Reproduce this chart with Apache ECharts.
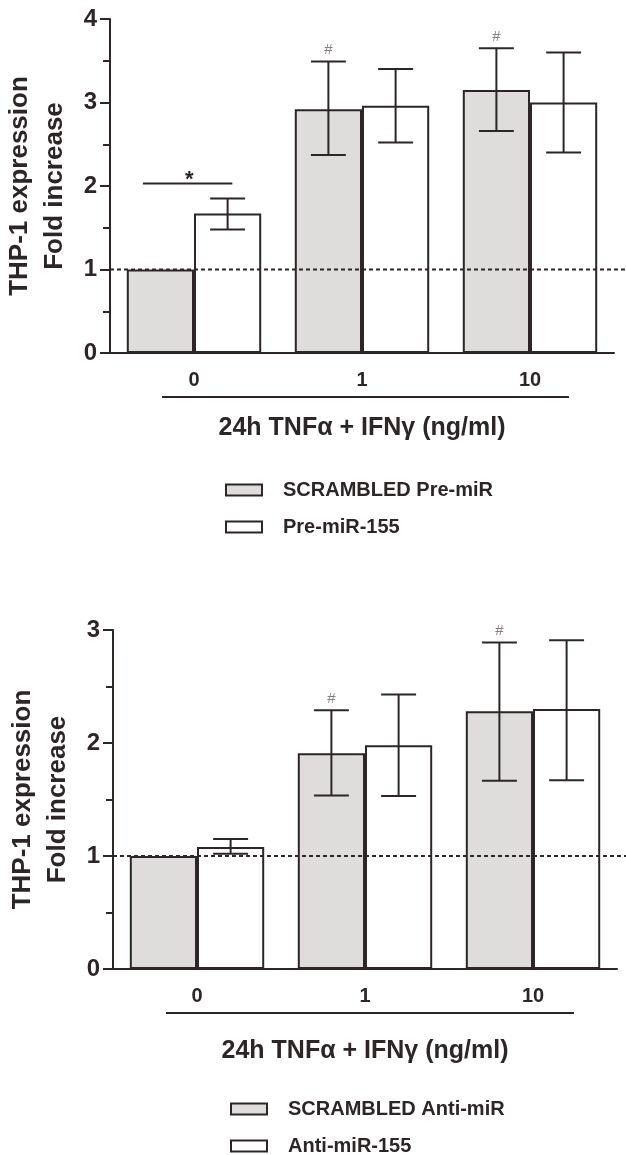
<!DOCTYPE html>
<html>
<head>
<meta charset="utf-8">
<script src="https://cdn.jsdelivr.net/npm/echarts@6/dist/echarts.min.js"></script>
<style>
  html, body { margin: 0; padding: 0; background: #fff; }
  #chart { width: 626px; height: 1155px; }
</style>
</head>
<body>
<div id="chart"></div>
<script>
// doses on the x axis (ng/ml)
const categories = ['0', '1', '10']

// top panel: pre-miR transfection
const preScrambled = [1.0, 2.92, 3.15]
const preScrambledLow = [null, 2.37, 2.66]
const preScrambledHigh = [null, 3.49, 3.65]
const pre155 = [1.67, 2.96, 3.0]
const pre155Low = [1.48, 2.52, 2.40]
const pre155High = [1.85, 3.40, 3.60]

// bottom panel: anti-miR transfection
const antiScrambled = [1.0, 1.91, 2.28]
const antiScrambledLow = [null, 1.535, 1.665]
const antiScrambledHigh = [null, 2.29, 2.89]
const anti155 = [1.08, 1.98, 2.30]
const anti155Low = [1.02, 1.53, 1.67]
const anti155High = [1.15, 2.43, 2.91]

// significance marks above the scrambled bars
const preHash = ['', '#', '#']
const antiHash = ['', '#', '#']
// "*" bracket between the two bars at dose 0 (top panel)
const preStar = [[0, 2.03]]
const baseline = 1

const ink = '#2e2626'
const grayFill = '#dfdddb'
const font = '"Liberation Sans", Arial, Helvetica, sans-serif'
const catGap = 0.2

// error bar drawn at the centre of the left (-1) or right (+1) bar of a group
function errorSeries(idx, low, high, side, marks) {
  return {
    type: 'custom',
    xAxisIndex: idx,
    yAxisIndex: idx,
    z: 5,
    silent: true,
    data: low.map((v, i) => (v == null ? null : [i, v, high[i]])).filter(Boolean),
    renderItem(params, api) {
      const i = api.value(0)
      const lo = api.coord([i, api.value(1)])
      const hi = api.coord([i, api.value(2)])
      const bw = api.size([1, 0])[0] * (1 - catGap) / 2
      const cx = lo[0] + side * bw / 2
      const half = bw * 0.26
      const st = { stroke: ink, lineWidth: 2 }
      const children = [
        { type: 'line', shape: { x1: cx, y1: lo[1], x2: cx, y2: hi[1] }, style: st },
        { type: 'line', shape: { x1: cx - half, y1: hi[1], x2: cx + half, y2: hi[1] }, style: st },
        { type: 'line', shape: { x1: cx - half, y1: lo[1], x2: cx + half, y2: lo[1] }, style: st }
      ]
      if (marks && marks[i]) {
        children.push({
          type: 'text',
          style: {
            x: cx, y: hi[1] - 4, text: marks[i], fill: '#8a807b',
            font: '15px ' + font, align: 'center', verticalAlign: 'bottom'
          }
        })
      }
      return { type: 'group', children }
    }
  }
}

function baselineSeries(idx) {
  return {
    type: 'custom',
    xAxisIndex: idx,
    yAxisIndex: idx,
    z: 10,
    silent: true,
    data: [[0, baseline]],
    renderItem(params, api) {
      const p = api.coord([0, api.value(1)])
      return {
        type: 'line',
        shape: { x1: params.coordSys.x, y1: p[1], x2: api.getWidth(), y2: p[1] },
        style: { stroke: ink, lineWidth: 2, lineDash: [4, 3] }
      }
    }
  }
}

function starSeries(idx, data) {
  return {
    type: 'custom',
    xAxisIndex: idx,
    yAxisIndex: idx,
    z: 6,
    silent: true,
    data: data,
    renderItem(params, api) {
      const p = api.coord([api.value(0), api.value(1)])
      const bw = api.size([1, 0])[0] * (1 - catGap) / 2
      return {
        type: 'group',
        children: [
          { type: 'line', shape: { x1: p[0] - 0.76 * bw, y1: p[1], x2: p[0] + 0.57 * bw, y2: p[1] },
            style: { stroke: ink, lineWidth: 2 } },
          { type: 'text', style: { x: p[0] - 0.07 * bw, y: p[1] - 15, text: '*', fill: ink,
            font: 'bold 22px ' + font, align: 'center', verticalAlign: 'top' } }
        ]
      }
    }
  }
}

function barSeries(idx, name, data, fill) {
  return {
    type: 'bar',
    name: name,
    xAxisIndex: idx,
    yAxisIndex: idx,
    data: data,
    barGap: '0%',
    barCategoryGap: (catGap * 100) + '%',
    itemStyle: { color: fill, borderColor: ink, borderWidth: 2 },
    silent: true
  }
}

function xAxis(idx, gap) {
  return {
    type: 'category',
    gridIndex: idx,
    data: categories,
    axisLine: { lineStyle: { color: ink, width: 2 } },
    axisTick: { show: false },
    axisLabel: { color: ink, fontSize: 20, fontWeight: 'bold', fontFamily: font, margin: 17 },
    name: '24h TNFα + IFNγ (ng/ml)',
    nameLocation: 'middle',
    nameGap: gap,
    nameTextStyle: { color: ink, fontSize: 25, fontWeight: 'bold', fontFamily: font }
  }
}

function yAxis(idx, max) {
  return {
    type: 'value',
    gridIndex: idx,
    min: 0,
    max: max,
    interval: 1,
    axisLine: { show: true, lineStyle: { color: ink, width: 2 } },
    axisTick: { show: true, length: 10, lineStyle: { color: ink, width: 2 } },
    minorTick: { show: true, splitNumber: 2, length: 7, lineStyle: { color: ink, width: 2 } },
    splitLine: { show: false },
    axisLabel: { color: ink, fontSize: 24, fontWeight: 'bold', fontFamily: font, margin: 13 },
    name: 'THP-1 expression\nFold increase',
    nameLocation: 'middle',
    nameRotate: 90,
    nameGap: 28,
    nameTextStyle: { color: ink, fontSize: 26, fontWeight: 'bold', fontFamily: font, lineHeight: 35 }
  }
}

function legend(names, left, top) {
  return {
    data: names,
    orient: 'vertical',
    left: left,
    top: top,
    height: 90,
    padding: 0,
    icon: 'rect',
    itemWidth: 36,
    itemHeight: 11,
    itemGap: 17,
    selectedMode: false,
    textStyle: { color: ink, fontSize: 20, fontWeight: 'bold', fontFamily: font, padding: [0, 0, 0, 16] }
  }
}

const chart = echarts.init(document.getElementById('chart'), null, { renderer: 'canvas' })
chart.setOption({
  backgroundColor: '#fff',
  animation: false,
  grid: [
    { left: 110, top: 19, width: 504, height: 334, outerBoundsMode: 'none' },
    { left: 113, top: 630, width: 504, height: 339, outerBoundsMode: 'none' }
  ],
  xAxis: [xAxis(0, 63), xAxis(1, 70)],
  yAxis: [yAxis(0, 4), yAxis(1, 3)],
  legend: [
    legend(['SCRAMBLED Pre-miR', 'Pre-miR-155'], 225, 480),
    legend(['SCRAMBLED Anti-miR', 'Anti-miR-155'], 230, 1099)
  ],
  graphic: [
    { type: 'line', shape: { x1: 162, y1: 397, x2: 569, y2: 397 }, style: { stroke: ink, lineWidth: 2 } },
    { type: 'line', shape: { x1: 166, y1: 1013, x2: 574, y2: 1013 }, style: { stroke: ink, lineWidth: 2 } }
  ],
  series: [
    barSeries(0, 'SCRAMBLED Pre-miR', preScrambled, grayFill),
    barSeries(0, 'Pre-miR-155', pre155, '#ffffff'),
    errorSeries(0, preScrambledLow, preScrambledHigh, -1, preHash),
    errorSeries(0, pre155Low, pre155High, 1),
    starSeries(0, preStar),
    baselineSeries(0),

    barSeries(1, 'SCRAMBLED Anti-miR', antiScrambled, grayFill),
    barSeries(1, 'Anti-miR-155', anti155, '#ffffff'),
    errorSeries(1, antiScrambledLow, antiScrambledHigh, -1, antiHash),
    errorSeries(1, anti155Low, anti155High, 1),
    baselineSeries(1)
  ]
})
</script>
</body>
</html>
